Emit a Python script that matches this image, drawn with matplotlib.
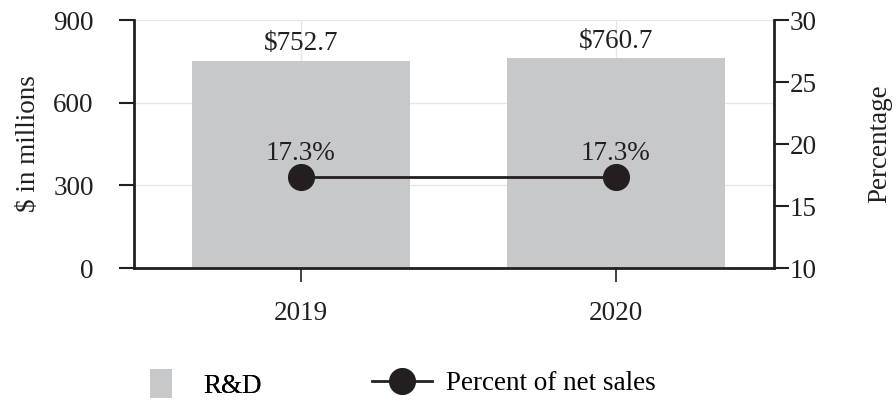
import matplotlib
matplotlib.use("Agg")
import matplotlib.pyplot as plt
from matplotlib.lines import Line2D
from matplotlib.patches import Patch

years = ["2019", "2020"]
rd_spend = [752.7, 760.7]          # $ in millions
pct_net_sales = [17.3, 17.3]       # percent

INK = "#231f20"
BAR = "#c7c8ca"
GRID = "#e6e6e6"
FS = 19.5

plt.rcParams["font.family"] = ["Liberation Serif", "DejaVu Serif"]
plt.rcParams["font.size"] = FS

fig = plt.figure(figsize=(8.96, 4.09), dpi=100)
ax = fig.add_axes([134 / 896, 1 - 268 / 409, 640 / 896, 248 / 409])
ax2 = ax.twinx()

x = list(range(len(years)))
ax.bar(x, rd_spend, width=0.69, color=BAR, zorder=2)
for xi, v in zip(x, rd_spend):
    ax.text(xi, v + 16, f"${v:.1f}", ha="center", va="bottom", color=INK, fontsize=FS)

ax.set_xlim(-0.53, 1.502)
ax.set_ylim(0, 900)
ax.set_yticks([0, 300, 600, 900])
ax.set_xticks(x)
ax.set_xticklabels(years)
ax.set_axisbelow(True)
ax.grid(True, color=GRID, linewidth=1, zorder=0)
ax.set_ylabel("$ in millions", color=INK, fontsize=FS, labelpad=9)

ax2.plot(x, pct_net_sales, color=INK, linewidth=2, marker="o",
         markersize=18.5, zorder=5)
for xi, v in zip(x, pct_net_sales):
    ax2.text(xi, v + 0.9, f"{v:.1f}%", ha="center", va="bottom", color=INK, fontsize=FS)
ax2.set_ylim(10, 30)
ax2.set_yticks([10, 15, 20, 25, 30])
ax2.set_ylabel("Percentage", color=INK, fontsize=FS, labelpad=36)

for a in (ax, ax2):
    a.spines["top"].set_visible(False)
    for s in ("left", "right", "bottom"):
        a.spines[s].set_color(INK)
        a.spines[s].set_linewidth(2)
ax.spines["right"].set_visible(False)
ax2.spines["left"].set_visible(False)
ax2.spines["bottom"].set_visible(False)

ax.tick_params(axis="y", length=11, width=1.5, color=INK, labelcolor=INK, pad=18)
ax.tick_params(axis="x", length=10, width=1.2, color=INK, labelcolor=INK, pad=14)
ax2.tick_params(axis="y", length=11, width=1.5, color=INK, labelcolor=INK, pad=0.5)

leg_y = 1 - 384 / 409
leg1 = fig.legend(handles=[Patch(facecolor=BAR, edgecolor="none", label="R&D")],
                  loc="center left", bbox_to_anchor=(126 / 896, leg_y),
                  frameon=False, fontsize=FS, handlelength=0.8,
                  handleheight=1.26, handletextpad=1.15)
fig.add_artist(leg1)
fig.legend(handles=[Line2D([0], [0], color=INK, linewidth=2, marker="o",
                           markersize=18.5, label="Percent of net sales")],
           loc="center left", bbox_to_anchor=(348 / 896, leg_y),
           frameon=False, fontsize=FS, handlelength=2.2, handletextpad=0.5)

fig.savefig("out.png", dpi=100)
